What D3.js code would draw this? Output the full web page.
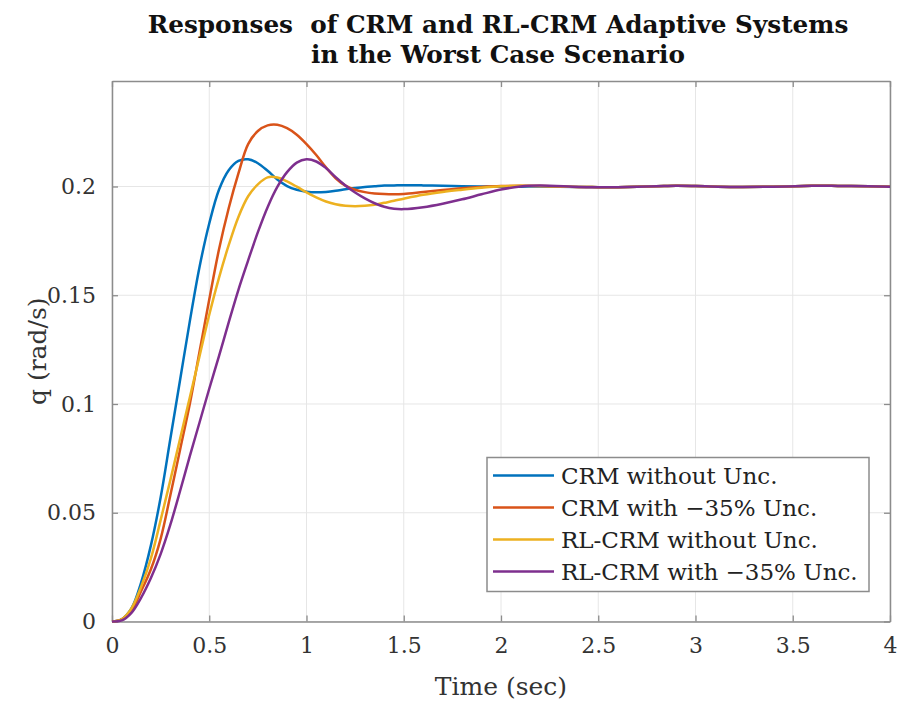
<!DOCTYPE html>
<html>
<head>
	<script src="https://d3js.org/d3.v7.min.js"></script>
	<meta charset="UTF-8">
	<style>
		body{
			margin: 0;
			background-color: #ffffff;
		}
		text{
			font-family: "DejaVu Serif", serif;
		}
	</style>
</head>
<body>
	<div class = 'chart'></div>
	<script type="text/javascript">
		//time axis (sec)
		var time = [0, 0.05, 0.1, 0.15, 0.2, 0.25, 0.3, 0.35, 0.4, 0.45, 0.5, 0.55, 0.6, 0.65, 0.7, 0.75,
			0.8, 0.85, 0.9, 0.95, 1.0, 1.05, 1.1, 1.15, 1.2, 1.25, 1.3, 1.35, 1.4, 1.45, 1.5,
			1.6, 1.7, 1.8, 1.9, 2.0, 2.1, 2.2,
			2.4, 2.5, 2.6, 2.8, 2.9, 3.0, 3.2, 3.4, 3.6, 3.7, 3.8, 4.0];

		//q (rad/s) for each system
		var crmNoUnc = [0, 0.001, 0.006, 0.018, 0.035, 0.057, 0.084, 0.111, 0.138, 0.163, 0.183, 0.1985, 0.2075, 0.2118, 0.2125, 0.2107,
			0.2072, 0.2032, 0.2002, 0.1985, 0.1976, 0.1973, 0.1975, 0.198, 0.1987, 0.1993, 0.1998, 0.2001, 0.2004, 0.2005, 0.2006,
			0.2005, 0.2003, 0.2001, 0.2, 0.1999, 0.1999, 0.2,
			0.1998, 0.1997, 0.1997, 0.2001, 0.2003, 0.2002, 0.1998, 0.1999, 0.2003, 0.2003, 0.2002, 0.1999];
		var crmUnc = [0, 0.001, 0.005, 0.014, 0.024, 0.038, 0.058, 0.079, 0.1, 0.124, 0.148, 0.171, 0.19, 0.206, 0.2195, 0.2255,
			0.2281, 0.2284, 0.2268, 0.2238, 0.2195, 0.2145, 0.2088, 0.2038, 0.2004, 0.1985, 0.1974, 0.1968, 0.1965, 0.1964, 0.1966,
			0.1975, 0.1984, 0.1992, 0.1998, 0.2002, 0.2003, 0.2002,
			0.1998, 0.1997, 0.1997, 0.2001, 0.2003, 0.2002, 0.1998, 0.1999, 0.2003, 0.2003, 0.2002, 0.1999];
		var rlNoUnc = [0, 0.001, 0.006, 0.016, 0.029, 0.0466, 0.065, 0.084, 0.103, 0.122, 0.141, 0.158, 0.173, 0.186, 0.1955, 0.201,
			0.2042, 0.2041, 0.2023, 0.1999, 0.1973, 0.195, 0.1931, 0.1918, 0.1911, 0.1909, 0.1911, 0.1916, 0.1925, 0.1934, 0.1944,
			0.1962, 0.1975, 0.1985, 0.1994, 0.2001, 0.2003, 0.2002,
			0.1998, 0.1997, 0.1997, 0.2001, 0.2003, 0.2002, 0.1998, 0.1999, 0.2003, 0.2003, 0.2002, 0.1999];
		var rlUnc = [0, 0.0005, 0.004, 0.011, 0.02, 0.031, 0.0445, 0.06, 0.076, 0.0915, 0.107, 0.122, 0.1375, 0.1525, 0.166, 0.179,
			0.1905, 0.1998, 0.2066, 0.211, 0.2125, 0.2115, 0.2085, 0.2043, 0.2005, 0.1972, 0.1945, 0.1923, 0.1907, 0.1898, 0.1896,
			0.1905, 0.1921, 0.1941, 0.1964, 0.1986, 0.2, 0.2004,
			0.1998, 0.1997, 0.1997, 0.2001, 0.2003, 0.2002, 0.1998, 0.1999, 0.2003, 0.2003, 0.2002, 0.1999];

		var seriesNames = ["CRM without Unc.", "CRM with \u221235% Unc.", "RL-CRM without Unc.", "RL-CRM with \u221235% Unc."];
		var seriesColors = ["#0072BD", "#D95319", "#EDB120", "#7E2F8E"];
		var xTicks = [0, 0.5, 1, 1.5, 2, 2.5, 3, 3.5, 4];
		var yTicks = [0, 0.05, 0.1, 0.15, 0.2];

		var W = 899;
		var H = 707;
		var pL = 112, pR = 890, pT = 81, pB = 621.5;

		var xScale = d3.scaleLinear().domain([0, 4]).range([pL, pR]);
		var yScale = d3.scaleLinear().domain([0, 0.2485]).range([pB, pT]);

		var svg = d3.select("div.chart")
					.append("svg")
					.attr("width", W)
					.attr("height", H);

		//grid
		svg.append("g").selectAll("line")
		   .data(xTicks)
		   .enter()
		   .append("line")
		   .attr("x1", function(d) { return xScale(d); })
		   .attr("x2", function(d) { return xScale(d); })
		   .attr("y1", pT)
		   .attr("y2", pB)
		   .attr("stroke", "#e6e6e6")
		   .attr("stroke-width", 1);
		svg.append("g").selectAll("line")
		   .data(yTicks)
		   .enter()
		   .append("line")
		   .attr("x1", pL)
		   .attr("x2", pR)
		   .attr("y1", function(d) { return yScale(d); })
		   .attr("y2", function(d) { return yScale(d); })
		   .attr("stroke", "#e6e6e6")
		   .attr("stroke-width", 1);

		//axes (box with inward ticks)
		var tickFmt = function(d) { return d3.format("")(d); };
		var axisColor = "#8c8c8c";
		function styleAxis(g) {
			g.select(".domain").attr("stroke", axisColor).attr("stroke-width", 1.5);
			g.selectAll(".tick line").attr("stroke", axisColor).attr("stroke-width", 1.3);
			g.selectAll(".tick text")
			 .attr("fill", "#333333")
			 .style("font-family", "'DejaVu Serif', serif")
			 .style("font-size", "22px");
		}
		svg.append("g")
		   .attr("transform", "translate(0," + pB + ")")
		   .call(d3.axisBottom(xScale).tickValues(xTicks).tickFormat(tickFmt).tickSizeInner(-6).tickSizeOuter(0).tickPadding(16))
		   .call(styleAxis);
		svg.append("g")
		   .attr("transform", "translate(" + pL + ",0)")
		   .call(d3.axisLeft(yScale).tickValues(yTicks).tickFormat(tickFmt).tickSizeInner(-6).tickSizeOuter(0).tickPadding(16))
		   .call(styleAxis);
		svg.append("g")
		   .attr("transform", "translate(0," + pT + ")")
		   .call(d3.axisTop(xScale).tickValues(xTicks).tickFormat("").tickSizeInner(-6).tickSizeOuter(0))
		   .call(styleAxis);
		svg.append("g")
		   .attr("transform", "translate(" + pR + ",0)")
		   .call(d3.axisRight(yScale).tickValues(yTicks).tickFormat("").tickSizeInner(-6).tickSizeOuter(0))
		   .call(styleAxis);

		//Create lines
		var allSeries = [crmNoUnc, crmUnc, rlNoUnc, rlUnc];
		var line = d3.line()
					 .x(function(d, i) { return xScale(time[i]); })
					 .y(function(d) { return yScale(d); })
					 .curve(d3.curveCatmullRom.alpha(0.5));
		svg.append("g").selectAll("path")
		   .data(allSeries)
		   .enter()
		   .append("path")
		   .attr("d", line)
		   .attr("fill", "none")
		   .attr("stroke", function(d, i) { return seriesColors[i]; })
		   .attr("stroke-width", 2.5)
		   .attr("stroke-linejoin", "round");

		//legend
		var lx = 487, ly = 457.5, lw = 382, lh = 134;
		var legend = svg.append("g");
		legend.append("rect")
			  .attr("x", lx).attr("y", ly).attr("width", lw).attr("height", lh)
			  .attr("fill", "#ffffff").attr("stroke", axisColor).attr("stroke-width", 1.5);
		var rows = legend.selectAll("g.row")
						 .data(seriesNames)
						 .enter()
						 .append("g")
						 .attr("class", "row")
						 .attr("transform", function(d, i) { return "translate(0," + (ly + 18 + i * 32) + ")"; });
		rows.append("line")
			.attr("x1", lx + 6).attr("x2", lx + 67)
			.attr("y1", 0).attr("y2", 0)
			.attr("stroke", function(d, i) { return seriesColors[i]; })
			.attr("stroke-width", 2.5);
		rows.append("text")
			.attr("x", lx + 74)
			.attr("y", 8)
			.style("font-size", "23px")
			.attr("fill", "#222222")
			.text(function(d) { return d; });

		//axis labels
		svg.append("text")
		   .attr("x", (pL + pR) / 2).attr("y", 695)
		   .attr("text-anchor", "middle")
		   .style("font-size", "25px").attr("fill", "#333333")
		   .text("Time (sec)");
		svg.append("text")
		   .attr("transform", "translate(46," + ((pT + pB) / 2) + ") rotate(-90)")
		   .attr("text-anchor", "middle")
		   .style("font-size", "25px").attr("fill", "#333333")
		   .text("q (rad/s)");

		//title
		var title = svg.append("text")
					   .attr("text-anchor", "middle")
					   .style("font-size", "24.7px").style("font-weight", "bold").attr("fill", "#111111");
		title.append("tspan").attr("x", 498).attr("y", 33).text("Responses\u00a0 of CRM and RL-CRM Adaptive Systems");
		title.append("tspan").attr("x", 498).attr("y", 63).text("in the Worst Case Scenario");
	</script>
</body>
</html>
